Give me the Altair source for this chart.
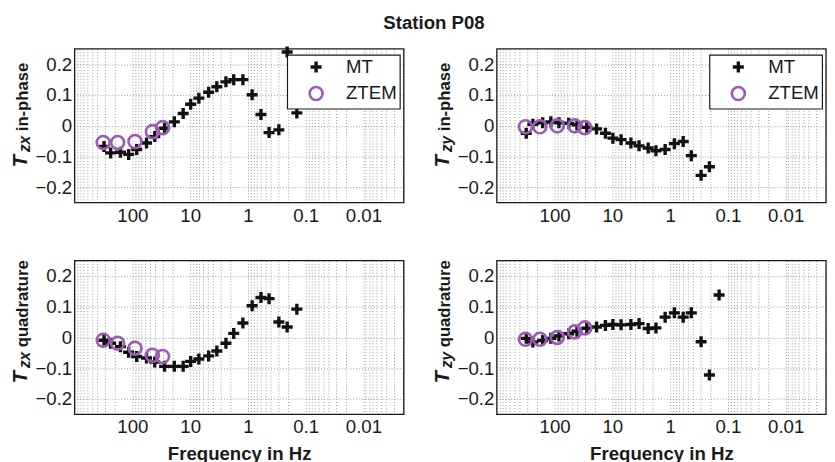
import altair as alt
import pandas as pd

FONT = "Liberation Sans"
PURPLE = "#9B5CB4"
INK = "#1a1a1a"
CROSS = "M-0.85,-0.26H-0.26V-0.85H0.26V-0.26H0.85V0.26H0.26V0.85H-0.26V0.26H-0.85Z"

# ---- data ----
mt_freq = [310, 238, 161, 116, 84.2, 56.9, 41.0, 27.7, 18.8, 13.2, 9.8, 7.06,
           4.78, 3.45, 2.40, 1.76, 1.22, 0.845, 0.594, 0.430, 0.291, 0.209, 0.142]
ztem_freq = [320, 180, 90, 45, 30]

tzx_in_mt = [-0.067, -0.088, -0.086, -0.093, -0.077, -0.056, -0.035, -0.008, 0.013,
             0.040, 0.070, 0.090, 0.109, 0.127, 0.143, 0.150, 0.150, 0.101, 0.037,
             -0.022, -0.013, 0.240, 0.042]
tzx_in_ztem = [-0.054, -0.054, -0.051, -0.019, -0.006]

tzy_in_mt = [-0.024, 0.005, 0.010, 0.013, 0.010, 0.008, 0.003, -0.005, -0.010,
             -0.024, -0.040, -0.045, -0.056, -0.065, -0.072, -0.081, -0.077, -0.058,
             -0.051, -0.097, -0.161, -0.133]
tzy_in_ztem = [-0.003, -0.003, 0.000, 0.000, -0.006]

tzx_q_mt = [-0.009, -0.019, -0.030, -0.048, -0.062, -0.067, -0.080, -0.094, -0.094,
            -0.094, -0.078, -0.070, -0.060, -0.044, -0.019, 0.013, 0.047, 0.103,
            0.130, 0.126, 0.050, 0.034, 0.092]
tzx_q_ztem = [-0.009, -0.019, -0.035, -0.058, -0.062]

tzy_q_mt = [-0.003, -0.015, -0.010, -0.003, 0.005, 0.012, 0.020, 0.030, 0.034,
            0.039, 0.042, 0.041, 0.042, 0.045, 0.029, 0.031, 0.066, 0.080, 0.066,
            0.080, -0.014, -0.122, 0.138]
tzy_q_ztem = [-0.006, -0.006, 0.000, 0.018, 0.031]

series = ["MT", "ZTEM"]
y_ticks = [-0.2, -0.1, 0, 0.1, 0.2]
x_labels = [100, 10, 1, 0.1, 0.01]

# grid positions for the log axis (1,2,...,9 x each decade)
grid_vals = [1000]
for e in [2, 1, 0, -1, -2, -3]:
    for k in range(9, 0, -1):
        v = round(k * 10 ** e, 6)
        if 0.002 <= v < 1000:
            grid_vals.append(v)

label_expr = " : ".join(
    [f"datum.value == {v} ? '{v}'" for v in x_labels]) + " : ''"

W, H = 336, 157


def panel(mt_v, z_v, sub, rest, start, legend, xtitle):
    n = len(mt_v)
    df = pd.DataFrame({
        "f": mt_freq[:n] + ztem_freq,
        "v": mt_v + z_v,
        "s": ["MT"] * n + ["ZTEM"] * len(z_v),
    })
    if legend:
        leg = alt.Legend(orient="none", legendX=217, legendY=6, title=None,
                         fillColor="white", strokeColor=INK,
                         padding=3, labelFont=FONT, labelFontSize=19, labelColor=INK,
                         symbolOffset=17, labelOffset=21, rowPadding=3,
                         symbolSize=175, symbolStrokeWidth=2.7, zindex=2)
    else:
        leg = None
    xaxis = alt.Axis(values=grid_vals, labelExpr=label_expr, labelOverlap=False,
                     labelFlush=False, ticks=False, domain=False, grid=True,
                     gridDash=[1, 2], gridColor="#808080", gridWidth=0.8,
                     labelFont=FONT, labelFontSize=19, labelColor=INK,
                     labelPadding=4,
                     title="Frequency in Hz" if xtitle else None,
                     titleFont=FONT, titleFontSize=19, titleFontWeight="bold",
                     titleColor=INK, titlePadding=8)
    yaxis = alt.Axis(values=y_ticks, format=".1~f", ticks=False, domain=False,
                     grid=True, gridDash=[1, 2], gridColor="#808080", gridWidth=0.8,
                     labelFont=FONT, labelFontSize=19, labelColor=INK,
                     labelPadding=3, title=None)
    pts = alt.Chart(df).mark_point(size=175, strokeWidth=2.7, opacity=1).encode(
        x=alt.X("f:Q", scale=alt.Scale(type="log", domain=[0.002, 1000],
                                       reverse=True, nice=False), axis=xaxis),
        y=alt.Y("v:Q", scale=alt.Scale(domain=[-0.25, 0.25], nice=False, zero=False),
                axis=yaxis),
        shape=alt.Shape("s:N", scale=alt.Scale(domain=series, range=[CROSS, "circle"]),
                        legend=leg),
        fill=alt.Fill("s:N", scale=alt.Scale(domain=series, range=["#111", "transparent"]),
                      legend=leg),
        stroke=alt.Stroke("s:N", scale=alt.Scale(domain=series, range=["transparent", PURPLE]),
                          legend=leg),
    )
    base = alt.Chart(pd.DataFrame({"k": [0]}))
    common = dict(angle=270, align="left", baseline="alphabetic", font=FONT,
                  fontWeight="bold", color=INK)
    t1 = base.mark_text(text="T", fontStyle="italic", fontSize=21, **common).encode(
        x=alt.value(-49), y=alt.value(start))
    t2 = base.mark_text(text=sub, fontStyle="italic", fontSize=16, **common).encode(
        x=alt.value(-45.5), y=alt.value(start - 15.5))
    t3 = base.mark_text(text=rest, fontSize=17, **common).encode(
        x=alt.value(-48), y=alt.value(start - 37))
    frame = base.mark_rect(fill="transparent", stroke=INK, strokeWidth=1.3).encode(
        x=alt.value(0), x2=alt.value(W), y=alt.value(0), y2=alt.value(H))
    return alt.layer(frame, pts, t1, t2, t3).properties(width=W, height=H)


p1 = panel(tzx_in_mt, tzx_in_ztem, "zx", "in-phase", 121, True, False)
p2 = panel(tzy_in_mt, tzy_in_ztem, "zy", "in-phase", 121, True, False)
p3 = panel(tzx_q_mt, tzx_q_ztem, "zx", "quadrature", 125.5, False, True)
p4 = panel(tzy_q_mt, tzy_q_ztem, "zy", "quadrature", 125.5, False, True)

ind = dict(shape="independent", fill="independent", stroke="independent")
row1 = alt.hconcat(p1, p2, spacing=28).resolve_scale(**ind).resolve_legend(**ind)
row2 = alt.hconcat(p3, p4, spacing=28).resolve_scale(**ind)

chart = alt.vconcat(row1, row2, spacing=35).properties(
    title=alt.TitleParams("Station P08", font=FONT, fontSize=19, fontWeight="bold",
                          color=INK, anchor="middle", offset=8, dx=16),
    padding={"left": 2, "top": 2, "right": 0, "bottom": 0},
).resolve_legend(**ind).configure_view(stroke=None).configure_legend(strokeWidth=1.2)

chart.save("out.html", embed_options={"renderer": "svg", "actions": False})
